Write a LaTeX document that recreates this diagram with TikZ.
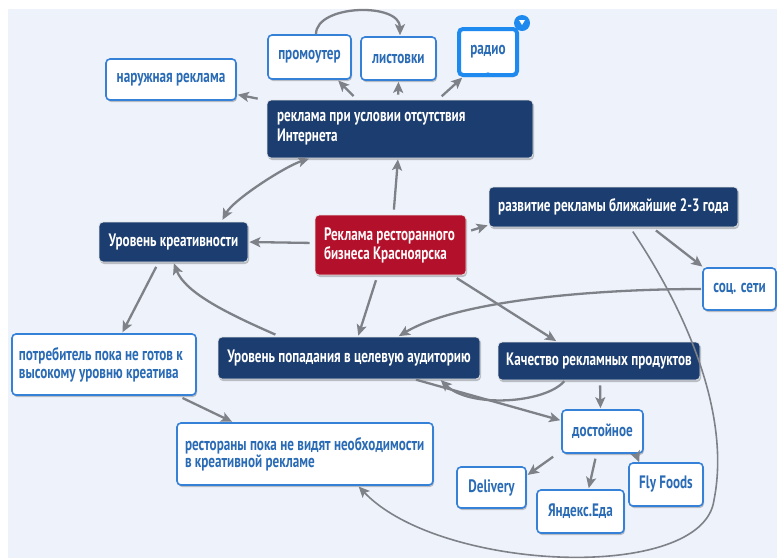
\documentclass[tikz,border=0pt]{standalone}
\usepackage{fontspec}
\setmainfont{PT Sans}[FakeStretch=0.73]
\usetikzlibrary{arrows.meta,shadows,calc}

\definecolor{pagebg}{HTML}{EEF2FA}
\definecolor{navy}{HTML}{1B3D70}
\definecolor{crimson}{HTML}{B3102B}
\definecolor{edgeblue}{HTML}{3581D8}
\definecolor{textblue}{HTML}{2A6BB6}
\definecolor{selblue}{HTML}{1E8AF0}
\definecolor{linkgrey}{HTML}{7E8188}

\newcommand\mapfont[1]{\bfseries\fontsize{18}{#1}\selectfont}

\begin{document}
\begin{tikzpicture}[x=1pt,y=-1pt,
  boxbase/.style={rounded corners=4pt, inner sep=0pt, align=center,
    font=\mapfont{20},
    drop shadow={shadow xshift=1pt, shadow yshift=-2pt, fill=black, opacity=0.22}},
  darkbox/.style={boxbase, fill=navy, draw=white!80!gray, line width=0.8pt, text=white},
  redbox/.style={boxbase, fill=crimson, draw=white!80!gray, line width=0.8pt, text=white!92!pink},
  lightbox/.style={boxbase, fill=white, draw=edgeblue, line width=1.6pt, text=textblue},
  link/.style={draw=linkgrey, line width=2.3pt,
    -{Stealth[length=11pt,width=10pt,inset=2.5pt]},
    shorten <=5pt, shorten >=1pt},
  thinlink/.style={link, line width=1.6pt}
]
\useasboundingbox (0,0) rectangle (777,558);
\fill[white] (0,0) rectangle (777,558);
\fill[pagebg] (8,9) rectangle (777,558);

% central topic
\node[redbox, text width=133pt, inner xsep=9pt, minimum height=60pt, align=flush left]
  (center) at (390.5,245) {\mbox{Реклама ресторанного}\\[-1pt]\mbox{бизнеса Красноярска}};

% main branches
\node[darkbox, text width=246pt, inner xsep=10pt, minimum height=58pt, align=flush left]
  (internet) at (400,129) {\mbox{реклама при условии отсутствия}\\Интернета};
\node[darkbox, minimum width=149pt, minimum height=40pt] (kreativ) at (173.5,242) {Уровень креативности};
\node[darkbox, minimum width=249pt, minimum height=40pt] (razvitie) at (613.5,207) {развитие рекламы ближайшие 2-3 года};
\node[darkbox, minimum width=262pt, minimum height=42pt] (popadanie) at (349,358) {Уровень попадания в целевую аудиторию};
\node[darkbox, minimum width=202pt, minimum height=38pt] (kachestvo) at (599,361) {Качество рекламных продуктов};

% leaves
\node[lightbox, minimum width=130pt, minimum height=41pt] (naruzh) at (171,79.5) {наружная реклама};
\node[lightbox, minimum width=83pt, minimum height=44pt] (promo) at (309.5,57) {промоутер};
\node[lightbox, minimum width=75pt, minimum height=43pt] (listovki) at (398.5,58.5) {листовки};
\node[lightbox, draw=selblue, line width=4pt, minimum width=58pt, minimum height=46pt] (radio) at (488,52) {радио};
\node[lightbox, minimum width=73pt, minimum height=42pt] (socseti) at (739.5,289) {соц. сети};
\node[lightbox, text width=170pt, inner xsep=7pt, minimum height=61pt, align=flush left]
  (potreb) at (104,364.5) {\mbox{потребитель пока не готов к}\\[-2pt]\mbox{высокому уровню креатива}};
\node[lightbox, text width=240pt, inner xsep=8pt, minimum height=62pt, align=flush left]
  (restorany) at (305,454) {\mbox{рестораны пока не видят необходимости}\\[-3pt]\mbox{в креативной рекламе}};
\node[lightbox, minimum width=81pt, minimum height=43pt] (dostoinoe) at (602.5,431.5) {достойное};
\node[lightbox, minimum width=69pt, minimum height=41pt] (delivery) at (491.5,487.5) {Delivery};
\node[lightbox, minimum width=87pt, minimum height=43pt] (yandex) at (580.5,511.5) {Яндекс.Еда};
\node[lightbox, minimum width=74pt, minimum height=43pt] (flyfoods) at (666,484.5) {Fly Foods};

% selection marks on the radio topic
\fill[selblue] ([xshift=3pt,yshift=4pt]radio.north east) circle (8pt);
\fill[white] ([xshift=0pt,yshift=7pt]radio.north east) -- ([xshift=6pt,yshift=7pt]radio.north east)
  -- ([xshift=3pt,yshift=2pt]radio.north east) -- cycle;
\fill[selblue] ([yshift=2.5pt]radio.south) circle (2.2pt);

% connectors from the central topic
\draw[link] ([xshift=3pt]center.north) -- ([xshift=-2pt]internet.south);
\draw[link] ([yshift=2pt]center.west) -- (kreativ.east);
\draw[link] ([yshift=13pt]center.east) -- ([yshift=-18pt]razvitie.west);
\draw[link] ([xshift=-13pt]center.south) -- ([xshift=9pt]popadanie.north);
\draw[link] ([xshift=62pt]center.south) -- ([xshift=-42pt]kachestvo.north);

% offline advertising channels
\draw[link] ([xshift=-4pt]internet.north west) -- ([yshift=-15pt]naruzh.east);
\draw[link] ([xshift=-43pt]internet.north) -- ([xshift=28pt]promo.south);
\draw[link] ([xshift=-2pt]internet.north) -- (listovki.south);
\draw[link] ([xshift=38pt]internet.north) -- ([xshift=-25pt]radio.south);
\draw[link, shorten <=0pt] ([xshift=6.5pt]promo.north) .. controls +(0,-30) and +(0,-34) .. ([xshift=1.5pt]listovki.north);

% creativity branch
\draw[link, <->, >={Stealth[length=11pt,width=10pt,inset=2.5pt]}, shorten <=2pt]
  ([xshift=48pt]kreativ.north) .. controls +(12,-22) and +(-25,8) .. ([xshift=-90pt]internet.south);
\draw[link] ([xshift=-69pt]popadanie.north) .. controls +(-50,-22) and +(12,31) .. (kreativ.south);
\draw[link] ([xshift=-15pt]kreativ.south) -- ([xshift=18pt]potreb.north);
\draw[link] ([xshift=74pt]potreb.south) -- ([xshift=-72pt]restorany.north);

% next years branch
\draw[link] ([xshift=38.5pt]razvitie.south) -- ([xshift=1pt]socseti.north west);
\draw[link, shorten <=1pt] (socseti.west) .. controls +(-102,0) and +(62,-37) .. ([xshift=49pt]popadanie.north);
\draw[thinlink] ([xshift=16.5pt]razvitie.south) .. controls (692,320) and (730,420) .. (714,500)
  .. controls (703,583) and (440,572) .. ([xshift=53pt]restorany.south);

% product quality branch
\draw[link] ([xshift=1pt]kachestvo.south) -- ([xshift=-2pt]dostoinoe.north);
\draw[link, shorten <=1pt] ([xshift=-34pt]kachestvo.south) .. controls +(-20,23) and +(30,29) .. ([xshift=91pt]popadanie.south);
\draw[link, shorten <=1pt] ([xshift=66pt]popadanie.south) -- ([yshift=11pt]dostoinoe.west);
\draw[link] ([xshift=-4pt]dostoinoe.south west) -- ([yshift=12pt]delivery.east);
\draw[link] ([xshift=-6pt]dostoinoe.south) -- ([xshift=8pt]yandex.north);
\draw[link, shorten <=0pt, shorten >=0pt] ([xshift=-8pt]dostoinoe.south east) -- ([xshift=11pt]flyfoods.north west);
\end{tikzpicture}
\end{document}
